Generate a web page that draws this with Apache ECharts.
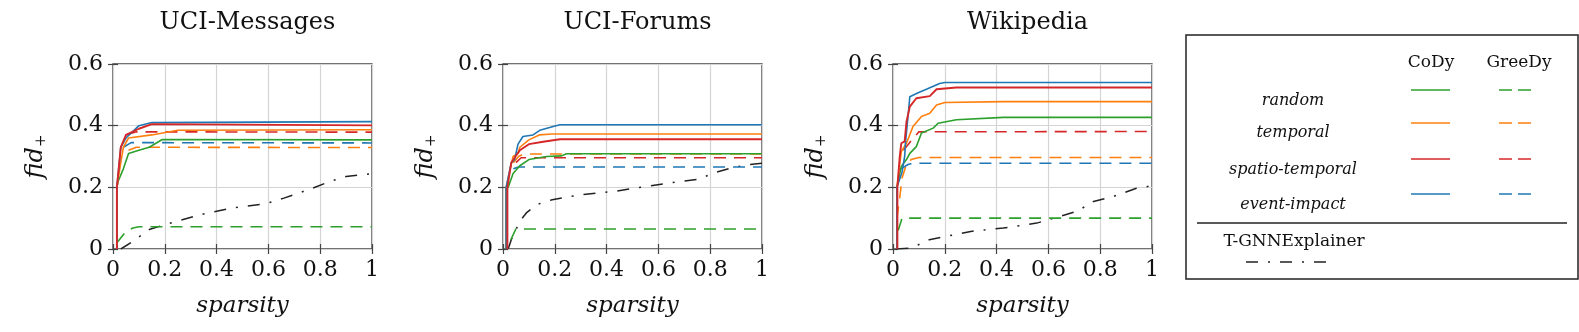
<!DOCTYPE html>
<html>
<head>
<meta charset="utf-8">
<script src="https://cdn.jsdelivr.net/npm/echarts@6/dist/echarts.min.js"></script>
<style>
html,body{margin:0;padding:0;background:#fff;}
#chart{width:1579px;height:332px;}
</style>
</head>
<body>
<div id="chart"></div>
<script>
// ---- data ----
var datasetTitles = ['UCI-Messages', 'UCI-Forums', 'Wikipedia'];
var xTicks = [0, 0.2, 0.4, 0.6, 0.8, 1];
var yTicks = [0, 0.2, 0.4, 0.6];
var methods = ['random', 'temporal', 'spatio-temporal', 'event-impact'];

// UCI-Messages
var msgCodyRandom = [[0.015,0],[0.015,0.2],[0.02,0.22],[0.04,0.26],[0.06,0.31],[0.1,0.32],[0.14,0.33],[0.19,0.355],[1,0.354]];
var msgCodyTemporal = [[0.015,0],[0.015,0.2],[0.03,0.28],[0.04,0.33],[0.06,0.36],[0.15,0.37],[0.25,0.385],[1,0.387]];
var msgCodySpatio = [[0.015,0],[0.015,0.2],[0.03,0.33],[0.05,0.37],[0.1,0.39],[0.15,0.405],[1,0.401]];
var msgCodyEvent = [[0.015,0],[0.015,0.2],[0.03,0.33],[0.05,0.36],[0.1,0.4],[0.15,0.41],[1,0.413]];
var msgGreedyRandom = [[0.015,0.02],[0.05,0.057],[0.077,0.068],[0.1,0.072],[1,0.072]];
var msgGreedyTemporal = [[0.06,0.32],[0.09,0.33],[1,0.329]];
var msgGreedySpatio = [[0.05,0.37],[0.09,0.38],[1,0.379]];
var msgGreedyEvent = [[0.04,0.33],[0.07,0.345],[1,0.344]];
var msgTgnn = [[0.03,0],[0.077,0.025],[0.14,0.063],[0.2,0.079],[0.33,0.11],[0.46,0.133],[0.59,0.147],[0.66,0.165],[0.77,0.197],[0.84,0.22],[0.9,0.235],[1,0.244]];

// UCI-Forums
var forCodyRandom = [[0.012,0],[0.012,0.2],[0.02,0.2],[0.039,0.245],[0.065,0.27],[0.1,0.29],[0.168,0.3],[0.226,0.302],[0.245,0.309],[1,0.309]];
var forCodyTemporal = [[0.012,0],[0.012,0.2],[0.025,0.25],[0.039,0.3],[0.058,0.31],[0.065,0.33],[0.1,0.354],[0.14,0.37],[0.19,0.373],[1,0.373]];
var forCodySpatio = [[0.017,0],[0.017,0.2],[0.032,0.28],[0.052,0.305],[0.065,0.32],[0.1,0.34],[0.155,0.348],[0.22,0.356],[1,0.356]];
var forCodyEvent = [[0.012,0],[0.012,0.2],[0.032,0.28],[0.045,0.29],[0.058,0.34],[0.077,0.365],[0.116,0.37],[0.142,0.385],[0.194,0.397],[0.22,0.403],[1,0.403]];
var forGreedyRandom = [[0.03,0.03],[0.05,0.065],[1,0.065]];
var forGreedyTemporal = [[0.04,0.28],[0.06,0.3],[0.08,0.308],[1,0.308]];
var forGreedySpatio = [[0.05,0.28],[0.07,0.296],[1,0.296]];
var forGreedyEvent = [[0.04,0.26],[0.06,0.266],[1,0.266]];
var forTgnn = [[0.02,0],[0.032,0.03],[0.065,0.09],[0.09,0.117],[0.13,0.144],[0.19,0.16],[0.3,0.176],[0.43,0.187],[0.555,0.203],[0.684,0.219],[0.76,0.227],[0.81,0.246],[0.877,0.262],[0.94,0.273],[1,0.278]];

// Wikipedia
var wikCodyRandom = [[0.015,0],[0.015,0.2],[0.032,0.268],[0.052,0.29],[0.065,0.31],[0.09,0.332],[0.11,0.376],[0.155,0.392],[0.174,0.408],[0.245,0.419],[0.426,0.427],[1,0.427]];
var wikCodyTemporal = [[0.015,0],[0.015,0.2],[0.032,0.316],[0.052,0.343],[0.077,0.397],[0.11,0.43],[0.142,0.44],[0.168,0.467],[0.2,0.475],[0.426,0.478],[1,0.478]];
var wikCodySpatio = [[0.017,0],[0.017,0.2],[0.026,0.3],[0.032,0.343],[0.045,0.349],[0.052,0.413],[0.058,0.435],[0.065,0.462],[0.09,0.489],[0.142,0.496],[0.168,0.518],[0.245,0.524],[1,0.524]];
var wikCodyEvent = [[0.015,0],[0.015,0.2],[0.035,0.25],[0.045,0.3],[0.048,0.343],[0.058,0.43],[0.065,0.494],[0.097,0.507],[0.129,0.518],[0.18,0.537],[0.2,0.54],[1,0.54]];
var wikGreedyRandom = [[0.02,0.06],[0.035,0.1],[1,0.1]];
var wikGreedyTemporal = [[0.015,0.1],[0.025,0.16],[0.035,0.23],[0.05,0.27],[0.07,0.29],[0.1,0.297],[1,0.297]];
var wikGreedySpatio = [[0.04,0.32],[0.05,0.33],[0.076,0.357],[0.1,0.38],[1,0.381]];
var wikGreedyEvent = [[0.03,0.26],[0.06,0.275],[0.08,0.278],[1,0.278]];
var wikTgnn = [[0.013,0],[0.07,0.003],[0.14,0.03],[0.2,0.04],[0.3,0.057],[0.426,0.068],[0.555,0.084],[0.645,0.106],[0.71,0.122],[0.774,0.154],[0.85,0.17],[0.94,0.197],[1,0.205]];

// ---- styling ----
var COLORS = {'random':'#2ca02c','temporal':'#ff7f0e','spatio-temporal':'#d62728','event-impact':'#1f77b4'};
var SERIF = '"DejaVu Serif", "Liberation Serif", serif';
var DASH = [12, 8];
var DASHDOT = [12, 10, 2, 10];

var panels = [
  {cody:[msgCodyRandom,msgCodyTemporal,msgCodySpatio,msgCodyEvent], greedy:[msgGreedyRandom,msgGreedyTemporal,msgGreedySpatio,msgGreedyEvent], tgnn:msgTgnn},
  {cody:[forCodyRandom,forCodyTemporal,forCodySpatio,forCodyEvent], greedy:[forGreedyRandom,forGreedyTemporal,forGreedySpatio,forGreedyEvent], tgnn:forTgnn},
  {cody:[wikCodyRandom,wikCodyTemporal,wikCodySpatio,wikCodyEvent], greedy:[wikGreedyRandom,wikGreedyTemporal,wikGreedySpatio,wikGreedyEvent], tgnn:wikTgnn}
];
var gridLefts = [113, 503, 893];
var GRID_W = 259, GRID_TOP = 64, GRID_H = 185;

var grids = [], xAxes = [], yAxes = [], series = [], titles = [];
var tickStyle = {show:true, inside:true, length:5, lineStyle:{color:'#444', width:1.2}};
var splitStyle = {show:true, lineStyle:{color:'#d4d4d4', width:1.2}};

panels.forEach(function(p, g){
  grids.push({left:gridLefts[g], top:GRID_TOP, width:GRID_W, height:GRID_H, show:true, borderColor:'#444', borderWidth:1.4, backgroundColor:'transparent'});
  titles.push({text:datasetTitles[g], left:gridLefts[g] + GRID_W/2, top:6, textAlign:'center',
    textStyle:{fontFamily:SERIF, fontSize:24, fontWeight:'normal', color:'#111'}});
  xAxes.push({type:'value', gridIndex:g, position:'bottom', min:xTicks[0], max:xTicks[xTicks.length-1], interval:0.2,
    axisLine:{show:false}, axisTick:tickStyle, splitLine:splitStyle,
    axisLabel:{fontFamily:SERIF, fontSize:22, color:'#111', margin:10},
    name:'sparsity', nameLocation:'middle', nameGap:46,
    nameTextStyle:{fontFamily:SERIF, fontStyle:'italic', fontSize:23, color:'#111'}});
  xAxes.push({type:'value', gridIndex:g, position:'top', min:0, max:1, interval:0.2,
    axisLine:{show:false}, axisTick:tickStyle, splitLine:{show:false}, axisLabel:{show:false}});
  yAxes.push({type:'value', gridIndex:g, position:'left', min:yTicks[0], max:yTicks[yTicks.length-1], interval:0.2,
    axisLine:{show:false}, axisTick:tickStyle, splitLine:splitStyle,
    axisLabel:{fontFamily:SERIF, fontSize:22, color:'#111', margin:10},
    name:'{i|fid}{s|+}', nameLocation:'middle', nameGap:64,
    nameTextStyle:{rich:{i:{fontFamily:SERIF, fontStyle:'italic', fontSize:24, color:'#111'},
                         s:{fontFamily:SERIF, fontSize:15, color:'#111', verticalAlign:'bottom', padding:[12,0,0,0]}}}});
  yAxes.push({type:'value', gridIndex:g, position:'right', min:0, max:0.6, interval:0.2,
    axisLine:{show:false}, axisTick:tickStyle, splitLine:{show:false}, axisLabel:{show:false}});

  var xi = 2*g, yi = 2*g;
  // T-GNNExplainer
  series.push({type:'line', xAxisIndex:xi, yAxisIndex:yi, data:p.tgnn, showSymbol:false, symbol:'none',
    lineStyle:{color:'#222', width:1.5, type:DASHDOT}, z:2, animation:false});
  // GreeDy dashed
  methods.forEach(function(m, k){
    series.push({type:'line', xAxisIndex:xi, yAxisIndex:yi, data:p.greedy[k], symbol:'none',
      lineStyle:{color:COLORS[m], width:1.6, type:DASH}, z:3, animation:false});
  });
  // CoDy solid
  [0,1,3,2].forEach(function(k){
    var m = methods[k];
    series.push({type:'line', xAxisIndex:xi, yAxisIndex:yi, data:p.cody[k], symbol:'none',
      lineStyle:{color:COLORS[m], width:(k===2?1.9:1.6)}, z:4, animation:false});
  });
});

// ---- legend (drawn as graphics) ----
var legendRows = [101, 133, 170, 205];
var legendLineY = [90, 123, 159, 194];
var graphics = [
  {type:'rect', shape:{x:1186, y:35, width:392, height:244}, style:{fill:'none', stroke:'#222', lineWidth:1.5}},
  {type:'text', x:1431, y:63, style:{text:'CoDy', font:'17px ' + SERIF, fill:'#111', align:'center', verticalAlign:'middle'}},
  {type:'text', x:1519, y:63, style:{text:'GreeDy', font:'17px ' + SERIF, fill:'#111', align:'center', verticalAlign:'middle'}},
  {type:'line', shape:{x1:1197, y1:223, x2:1567, y2:223}, style:{stroke:'#222', lineWidth:1.5}},
  {type:'text', x:1294, y:242, style:{text:'T-GNNExplainer', font:'17px ' + SERIF, fill:'#111', align:'center', verticalAlign:'middle'}},
  {type:'line', shape:{x1:1246, y1:262, x2:1334, y2:262}, style:{stroke:'#222', lineWidth:1.6, lineDash:DASHDOT}}
];
methods.forEach(function(m, k){
  graphics.push({type:'text', x:1293, y:legendRows[k], style:{text:m, font:'italic 16px ' + SERIF, fill:'#111', align:'center', verticalAlign:'middle'}});
  graphics.push({type:'line', shape:{x1:1411, y1:legendLineY[k], x2:1450, y2:legendLineY[k]}, style:{stroke:COLORS[m], lineWidth:1.6}});
  graphics.push({type:'line', shape:{x1:1499, y1:legendLineY[k], x2:1531, y2:legendLineY[k]}, style:{stroke:COLORS[m], lineWidth:1.6, lineDash:[13,6]}});
});

var chart = echarts.init(document.getElementById('chart'), null, {renderer:'canvas'});
chart.setOption({
  animation:false,
  backgroundColor:'#fff',
  title:titles,
  grid:grids,
  xAxis:xAxes,
  yAxis:yAxes,
  series:series,
  graphic:graphics
});
</script>
</body>
</html>
